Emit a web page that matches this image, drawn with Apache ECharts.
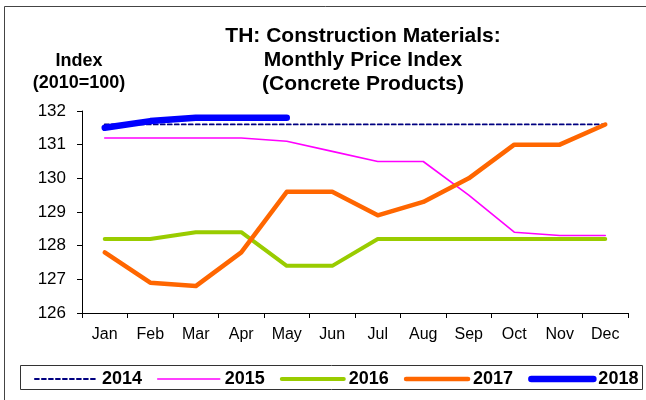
<!DOCTYPE html>
<html>
    <head>
        <meta http-equiv="Content-Type" content="text/html; charset=UTF-8" />
        <title>TH: Construction Materials</title>
        <script type="text/javascript" src="https://cdn.jsdelivr.net/npm/echarts@6.0.0/dist/echarts.min.js"></script>
    </head>

    <body style="margin:0; width: 646px; height:400px; background:#fff;">
        <div id="main" style="width: 646px;height:400px;"></div>
    </body>
    <script>
        // data
        var months = ['Jan', 'Feb', 'Mar', 'Apr', 'May', 'Jun', 'Jul', 'Aug', 'Sep', 'Oct', 'Nov', 'Dec'];
        var y2014 = [131.6, 131.6, 131.6, 131.6, 131.6, 131.6, 131.6, 131.6, 131.6, 131.6, 131.6, 131.6];
        var y2015 = [131.2, 131.2, 131.2, 131.2, 131.1, 130.8, 130.5, 130.5, 129.5, 128.4, 128.3, 128.3];
        var y2016 = [128.2, 128.2, 128.4, 128.4, 127.4, 127.4, 128.2, 128.2, 128.2, 128.2, 128.2, 128.2];
        var y2017 = [127.8, 126.9, 126.8, 127.8, 129.6, 129.6, 128.9, 129.3, 130.0, 131.0, 131.0, 131.6];
        var y2018 = [131.5, 131.7, 131.8, 131.8, 131.8];

        var font = '"Liberation Sans", Arial, sans-serif';
        var myChart = echarts.init(document.getElementById('main'));

        var styles = {
            '2014': {color: '#000080', width: 1.8, type: [4, 3]},
            '2015': {color: '#ff00ff', width: 1.6, type: 'solid'},
            '2016': {color: '#99cc00', width: 4, type: 'solid'},
            '2017': {color: '#ff6600', width: 4.5, type: 'solid'},
            '2018': {color: '#0000ff', width: 6.5, type: 'solid'}
        };

        function line(name, data) {
            var s = styles[name];
            return {
                name: name,
                type: 'line',
                data: data,
                symbol: 'none',
                lineStyle: {color: s.color, width: s.width, type: s.type, cap: 'round', join: 'round'},
                itemStyle: {color: s.color}
            };
        }

        function legendItem(name) {
            var s = styles[name];
            return {
                name: name,
                itemStyle: {opacity: 0},
                lineStyle: {color: s.color, width: s.width, type: s.type, cap: 'round'}
            };
        }

        option = {
            animation: false,
            backgroundColor: '#fff',
            title: [{
                text: 'TH: Construction Materials:\nMonthly Price Index\n(Concrete Products)',
                left: 363,
                top: 24,
                textAlign: 'center',
                padding: 0,
                textStyle: {fontFamily: font, fontSize: 21, fontWeight: 'bold', color: '#000', lineHeight: 24}
            }, {
                text: 'Index\n(2010=100)',
                left: 79,
                top: 50,
                textAlign: 'center',
                padding: 0,
                textStyle: {fontFamily: font, fontSize: 18, fontWeight: 'bold', color: '#000', lineHeight: 22}
            }],
            graphic: [{
                type: 'rect',
                shape: {x: 4.5, y: 6.5, width: 700, height: 500},
                style: {fill: null, stroke: '#444', lineWidth: 1},
                silent: true
            }, {
                type: 'rect',
                shape: {x: 20.5, y: 365.5, width: 622, height: 24},
                style: {fill: null, stroke: '#333', lineWidth: 1},
                silent: true
            }],
            legend: {
                left: 34,
                top: 370,
                padding: 0,
                itemWidth: 62,
                itemHeight: 14,
                itemGap: 15,
                textStyle: {fontFamily: font, fontSize: 18, fontWeight: 'bold', color: '#000'},
                data: ['2014', '2015', '2016', '2017', '2018'].map(legendItem)
            },
            grid: {left: 82, right: 18, top: 111, bottom: 87, containLabel: false},
            xAxis: {
                type: 'category',
                data: months,
                boundaryGap: true,
                axisLine: {lineStyle: {color: '#000', width: 1}},
                axisTick: {show: true, length: 5, lineStyle: {color: '#000'}},
                axisLabel: {fontFamily: font, fontSize: 16, color: '#000', margin: 14}
            },
            yAxis: {
                type: 'value',
                min: 126,
                max: 132,
                interval: 1,
                splitLine: {show: false},
                axisLine: {show: true, lineStyle: {color: '#000', width: 1}},
                axisTick: {show: true, length: 5, lineStyle: {color: '#000'}},
                axisLabel: {fontFamily: font, fontSize: 17, color: '#000', margin: 16}
            },
            series: [
                line('2014', y2014),
                line('2015', y2015),
                line('2016', y2016),
                line('2017', y2017),
                line('2018', y2018)
            ]
        };

        myChart.setOption(option);
    </script>
</html>
